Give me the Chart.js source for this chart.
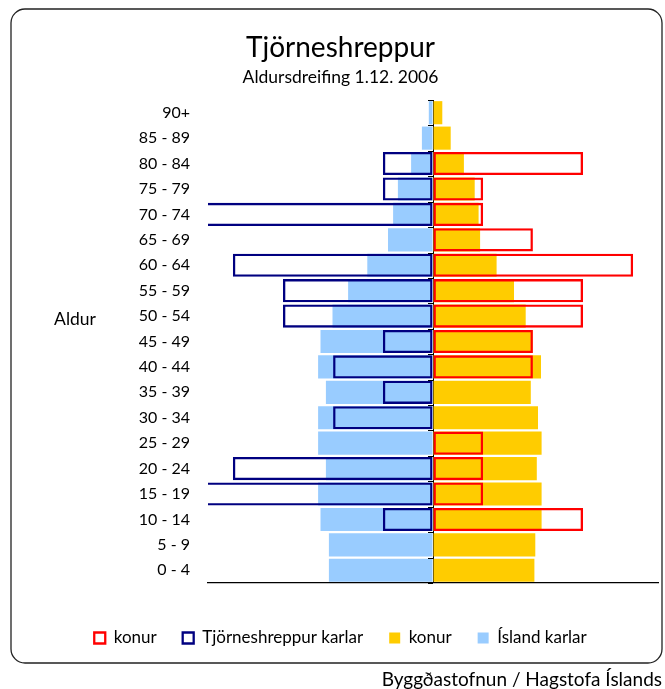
<!DOCTYPE html>
<html><head><meta charset="utf-8">
<script src="https://cdn.jsdelivr.net/npm/chart.js@4/dist/chart.umd.min.js"></script>
<style>html,body{margin:0;padding:0;background:#fff}#wrap{width:665px;height:689px;position:relative}</style>
</head><body><div id="wrap"><canvas id="c" width="665" height="689"></canvas></div>
<script>
// Age groups, bottom to top
const ageGroups = ["0 - 4","5 - 9","10 - 14","15 - 19","20 - 24","25 - 29","30 - 34","35 - 39","40 - 44","45 - 49","50 - 54","55 - 59","60 - 64","65 - 69","70 - 74","75 - 79","80 - 84","85 - 89","90+"];
// Percent of population
const islandKarlar = [3.47,3.47,3.75,3.83,3.57,3.83,3.83,3.57,3.83,3.75,3.35,2.83,2.19,1.50,1.33,1.17,0.73,0.37,0.14];
const islandKonur  = [3.38,3.41,3.62,3.62,3.46,3.62,3.50,3.26,3.60,3.32,3.09,2.70,2.12,1.57,1.52,1.39,1.03,0.59,0.31];
const tjorKarlar   = [0,0,1.67,8.33,6.67,0,3.33,1.67,3.33,1.67,5.00,5.00,6.67,0,8.33,1.67,1.67,0,0];
const tjorKonur    = [0,0,5.00,1.67,1.67,1.67,0,0,3.33,3.33,5.00,5.00,6.67,3.33,1.67,1.67,5.00,0,0];
const titleText = "Tjörneshreppur";
const subtitleText = "Aldursdreifing 1.12. 2006";
const axisTitle = "Aldur";
const sourceText = "Byggðastofnun / Hagstofa Íslands";
const seriesLabels = ["konur","Tjörneshreppur karlar","konur","Ísland karlar"];

const FONT = "Lato";

const framePlugin = {
  id: 'frame',
  beforeDraw(chart) {
    const ctx = chart.ctx;
    ctx.save();
    ctx.fillStyle = '#fff';
    ctx.fillRect(0, 0, chart.width, chart.height);
    const x = 11, y = 9, w = 651, h = 654, r = 14;
    ctx.beginPath();
    ctx.moveTo(x + r, y);
    ctx.arcTo(x + w, y, x + w, y + h, r);
    ctx.arcTo(x + w, y + h, x, y + h, r);
    ctx.arcTo(x, y + h, x, y, r);
    ctx.arcTo(x, y, x + w, y, r);
    ctx.closePath();
    ctx.lineWidth = 1.3;
    ctx.strokeStyle = '#222';
    ctx.stroke();
    ctx.restore();
  },
  afterDraw(chart) {
    const ctx = chart.ctx;
    const a = chart.chartArea;
    ctx.save();
    ctx.fillStyle = '#000';
    ctx.font = '17.5px ' + FONT;
    ctx.textAlign = 'center';
    ctx.textBaseline = 'middle';
    ctx.fillText(axisTitle, 75, a.top + 219);
    ctx.font = '19px ' + FONT;
    ctx.textAlign = 'right';
    ctx.fillText(sourceText, 662, 680);
    ctx.restore();
  },
  afterDatasetsDraw(chart) {
    const ctx = chart.ctx;
    const xs = chart.scales.x, ys = chart.scales.y;
    const x0 = xs.getPixelForValue(0);
    const step = Math.abs(ys.getPixelForValue(1) - ys.getPixelForValue(0));
    ctx.save();
    ctx.strokeStyle = '#000';
    ctx.lineWidth = 1;
    ctx.beginPath();
    for (let i = 0; i < ageGroups.length; i++) {
      const yc = ys.getPixelForValue(i);
      const yb = Math.round(yc + step / 2) + 0.5;
      ctx.moveTo(x0 - 5, yb); ctx.lineTo(x0, yb);
      if (i === ageGroups.length - 1) {
        const yt = Math.round(yc - step / 2) + 0.5;
        ctx.moveTo(x0 - 5, yt); ctx.lineTo(x0, yt);
      }
    }
    ctx.stroke();
    ctx.restore();
  }
};

const neg = arr => arr.map(v => -v);
const outline = { backgroundColor: 'rgba(0,0,0,0)', borderWidth: 2.3, borderSkipped: false, clip: 0 };
const filled = { borderWidth: 0, clip: 0 };

new Chart(document.getElementById('c'), {
  type: 'bar',
  data: {
    labels: ageGroups,
    datasets: [
      Object.assign({ label: seriesLabels[0], data: tjorKonur, borderColor: '#FF0000' }, outline),
      Object.assign({ label: seriesLabels[1], data: neg(tjorKarlar), borderColor: '#000080' }, outline),
      Object.assign({ label: seriesLabels[2], data: islandKonur, backgroundColor: '#FFCC00' }, filled),
      Object.assign({ label: seriesLabels[3], data: neg(islandKarlar), backgroundColor: '#99CCFF' }, filled)
    ]
  },
  options: {
    indexAxis: 'y',
    responsive: false,
    animation: false,
    devicePixelRatio: 1,
    grouped: false,
    categoryPercentage: 1,
    barPercentage: 0.91,
    layout: { padding: { left: 16, right: 0, top: 10, bottom: 32.5 } },
    scales: {
      x: {
        type: 'linear', min: -7.5, max: 7.5, z: 1,
        ticks: { display: false, stepSize: 2.5 },
        grid: { drawTicks: false, color: c => (c.tick && c.tick.value === 0 ? '#000' : 'rgba(0,0,0,0)'), lineWidth: 1 },
        border: { display: true, color: '#000', width: 1.3 },
        afterFit: s => { s.height = 20.5; }
      },
      y: {
        type: 'category', reverse: true, position: 'left',
        grid: { display: false, drawTicks: false },
        border: { display: false },
        ticks: { color: '#000', font: { family: FONT, size: 16 }, padding: 18, autoSkip: false },
        afterFit: s => { s.width = 192; }
      },
      yRight: {
        type: 'category', position: 'right', display: true,
        grid: { display: false, drawTicks: false },
        border: { display: false },
        ticks: { display: false },
        afterFit: s => { s.width = 7; }
      }
    },
    plugins: {
      title: { display: true, text: titleText, color: '#000', font: { family: FONT, size: 28, weight: 'normal', lineHeight: 1.2 }, padding: { top: 21.2, bottom: 0 } },
      subtitle: { display: true, text: subtitleText, color: '#000', font: { family: FONT, size: 17.5, weight: 'normal', lineHeight: 1.2 }, padding: { top: 1.7, bottom: 12.5 } },
      legend: {
        position: 'bottom',
        labels: { color: '#000', font: { family: FONT, size: 17 }, boxWidth: 11, boxHeight: 11, padding: 26 }
      },
      tooltip: { enabled: false }
    }
  },
  plugins: [framePlugin]
});
</script></body></html>
